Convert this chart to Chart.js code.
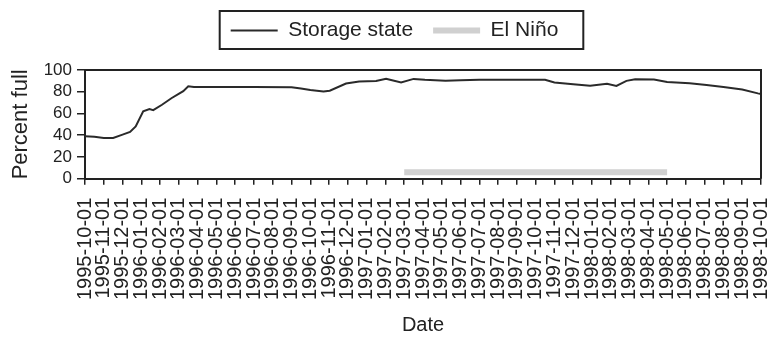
<!DOCTYPE html>
<html>
<head>
<meta charset="utf-8">
<script src="https://cdn.jsdelivr.net/npm/chart.js@4/dist/chart.umd.min.js"></script>
<style>
  html, body { margin: 0; padding: 0; background: #fff; }
  #wrap { width: 777px; height: 340px; }
</style>
</head>
<body>
<div id="wrap"><canvas id="c" width="777" height="340"></canvas></div>
<script>
// Monthly axis labels, 1995-10 through 1998-10
const tickLabels = [
  "1995-10-01","1995-11-01","1995-12-01",
  "1996-01-01","1996-02-01","1996-03-01","1996-04-01","1996-05-01","1996-06-01",
  "1996-07-01","1996-08-01","1996-09-01","1996-10-01","1996-11-01","1996-12-01",
  "1997-01-01","1997-02-01","1997-03-01","1997-04-01","1997-05-01","1997-06-01",
  "1997-07-01","1997-08-01","1997-09-01","1997-10-01","1997-11-01","1997-12-01",
  "1998-01-01","1998-02-01","1998-03-01","1998-04-01","1998-05-01","1998-06-01",
  "1998-07-01","1998-08-01","1998-09-01","1998-10-01"
];

// Reservoir storage, percent full
const storageDates = [
  "1995-10-01","1995-10-16","1995-11-01","1995-11-16","1995-12-01","1995-12-13","1995-12-22",
  "1996-01-04","1996-01-14","1996-01-20","1996-02-04","1996-02-19","1996-03-02","1996-03-08",
  "1996-03-16","1996-03-25","1996-05-01","1996-07-01","1996-09-01","1996-09-16","1996-10-01",
  "1996-10-22","1996-11-02","1996-11-28","1996-12-19",
  "1997-01-16","1997-02-02","1997-02-26","1997-03-16","1997-04-04","1997-05-07","1997-06-01",
  "1997-07-01","1997-10-16","1997-11-01","1997-12-01","1997-12-28",
  "1998-01-25","1998-02-10","1998-02-26","1998-03-10","1998-04-10","1998-05-01","1998-06-07",
  "1998-07-04","1998-08-01","1998-09-01","1998-09-26","1998-10-01"
];
const storageValues = [
  39, 38.5, 37.5, 37.5, 40.5, 43, 48,
  62, 64, 63, 68, 74, 78.5, 80.5,
  85, 84.3, 84.3, 84.3, 84.2, 83, 81.5,
  80.3, 81, 87.5, 89.5,
  89.8, 92, 88.5, 91.8, 91, 90, 90.5,
  91, 91, 88.5, 86.8, 85.5,
  87.4, 85.3, 90, 91.4, 91.2, 89, 87.8,
  86.2, 84.3, 82, 78.5, 78
];

// El Niño period marker
const ninoDates = ["1997-03-01", "1998-05-01"];
const ninoValues = [6, 6];

// Months elapsed since the first axis label
function monthIndex(s) {
  const [y, m, d] = s.split("-").map(Number);
  return (y - 1995) * 12 + (m - 10) + (d - 1) / 30;
}
const toPoints = (dates, vals) => dates.map((d, i) => ({ x: monthIndex(d), y: vals[i] }));

const INK = "#222";
const FONT = "'Liberation Sans', Arial, sans-serif";

// Frame the plot area (top and right edges), box the legend and
// leave a gap between the legend and the plot
const framePlugin = {
  id: "frame",
  beforeLayout(chart) {
    const lg = chart.legend;
    if (lg && !lg._gapPatched) {
      const fit = lg.fit;
      lg.fit = function () { fit.call(this); this.height += 19; };
      lg._gapPatched = true;
    }
  },
  afterLayout(chart) {
    const lg = chart.legend;
    lg.left += 14; lg.right += 14;
  },
  afterDraw(chart) {
    const { ctx, chartArea: a } = chart;
    ctx.save();
    ctx.strokeStyle = INK;
    ctx.lineWidth = 2;
    ctx.beginPath();
    ctx.moveTo(a.left, a.top);
    ctx.lineTo(a.right, a.top);
    ctx.lineTo(a.right, a.bottom);
    ctx.stroke();

    const boxes = chart.legend.legendHitBoxes;
    if (boxes && boxes.length) {
      const l = Math.min(...boxes.map(b => b.left)) - 11;
      const r = Math.max(...boxes.map(b => b.left + b.width)) + 25;
      const t = Math.min(...boxes.map(b => b.top)) - 9;
      const bt = Math.max(...boxes.map(b => b.top + b.height)) + 8;
      ctx.lineWidth = 2;
      ctx.strokeRect(l, t, r - l, bt - t);
    }
    ctx.restore();
  }
};

new Chart(document.getElementById("c"), {
  type: "line",
  data: {
    datasets: [
      {
        label: "Storage state",
        data: toPoints(storageDates, storageValues),
        borderColor: "#2a2a2a",
        borderWidth: 2,
        pointRadius: 0,
        pointStyle: "line",
        tension: 0,
        fill: false
      },
      {
        label: "El Niño",
        data: toPoints(ninoDates, ninoValues),
        borderColor: "#d0d0d0",
        borderWidth: 6,
        pointRadius: 0,
        pointStyle: "line",
        borderCapStyle: "butt",
        fill: false
      }
    ]
  },
  options: {
    responsive: false,
    animation: false,
    devicePixelRatio: 1,
    layout: { padding: { top: 0, bottom: 2, left: 0, right: 16 } },
    plugins: {
      tooltip: { enabled: false },
      legend: {
        position: "top",
        align: "center",
        labels: {
          usePointStyle: true,
          pointStyleWidth: 47,
          padding: 20,
          color: INK,
          font: { family: FONT, size: 21 }
        }
      }
    },
    scales: {
      x: {
        type: "linear",
        min: 0,
        max: 36,
        border: { display: true, color: INK, width: 2 },
        grid: { drawOnChartArea: false, drawTicks: true, tickLength: 6, color: INK, lineWidth: 1.5 },
        ticks: {
          stepSize: 1,
          autoSkip: false,
          maxRotation: 90,
          minRotation: 90,
          padding: 13,
          color: INK,
          font: { family: FONT, size: 20 },
          callback: (v) => tickLabels[v]
        },
        title: {
          display: true,
          text: "Date",
          color: INK,
          font: { family: FONT, size: 20 },
          padding: { top: 0, bottom: 1 }
        },
        afterFit(scale) { scale.paddingLeft = 0; scale.paddingRight = 0; }
      },
      y: {
        min: 0,
        max: 100,
        border: { display: true, color: INK, width: 2 },
        grid: { drawOnChartArea: false, drawTicks: true, tickLength: 8, color: INK, lineWidth: 1.5 },
        ticks: {
          stepSize: 20,
          autoSkip: false,
          padding: 5,
          color: INK,
          font: { family: FONT, size: 17 }
        },
        title: {
          display: true,
          text: "Percent full",
          color: INK,
          font: { family: FONT, size: 22 },
          padding: { top: 8, bottom: 0 }
        },
        afterFit(scale) { scale.width = 85; }
      }
    }
  },
  plugins: [framePlugin]
});
</script>
</body>
</html>
